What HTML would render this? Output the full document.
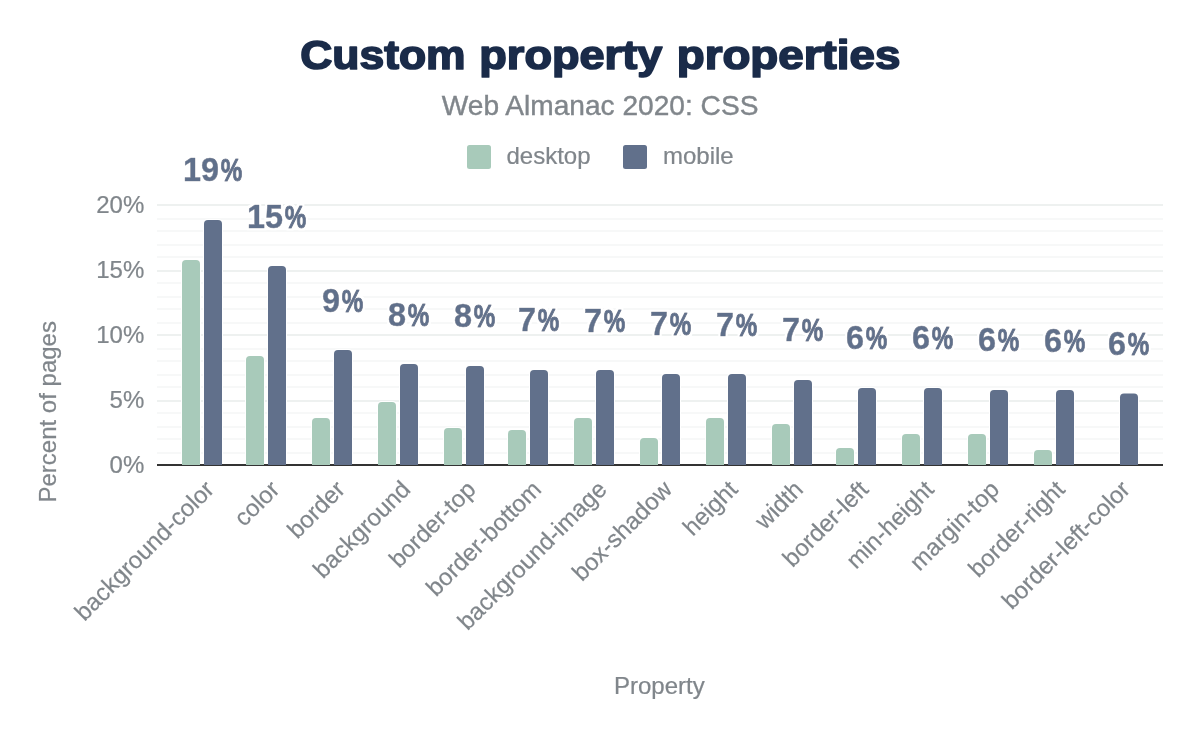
<!DOCTYPE html>
<html lang="en"><head><meta charset="utf-8"><title>Custom property properties</title>
<style>
html,body{margin:0;padding:0;background:#fff;}
body{width:1200px;height:742px;overflow:hidden;}
svg{display:block;}
text{font-family:"Liberation Sans",sans-serif;}
.g{fill:#80868b;font-size:24px;stroke:#80868b;stroke-width:0.22px;}
.dl{fill:#61708b;font-weight:bold;font-size:32.4px;text-anchor:middle;stroke:#61708b;stroke-width:0.5px;stroke-linejoin:round;}
.pc{font-size:30.6px;stroke-width:1px;}
</style></head><body>
<svg width="1200" height="742" viewBox="0 0 1200 742">
<rect width="1200" height="742" fill="#fff"/>

<text y="69" font-size="41.5" font-weight="bold" fill="#1a2b49" stroke="#1a2b49" stroke-width="1.7" stroke-linejoin="round" lengthAdjust="spacingAndGlyphs"><tspan x="300.3" textLength="165.3" lengthAdjust="spacingAndGlyphs">Custom</tspan> <tspan x="479.3" textLength="183" lengthAdjust="spacingAndGlyphs">property</tspan> <tspan x="676.7" textLength="223.7" lengthAdjust="spacingAndGlyphs">properties</tspan></text>
<text x="600.1" y="114.6" text-anchor="middle" font-size="28.12" fill="#80868b" stroke="#80868b" stroke-width="0.4">Web Almanac 2020: CSS</text>
<rect x="467" y="145" width="24" height="24" rx="2.5" fill="#a8caba"/>
<text class="g" x="506.5" y="163.75">desktop</text>
<rect x="623" y="145" width="24" height="24" rx="2.5" fill="#61708b"/>
<text class="g" x="663" y="163.75">mobile</text>
<rect x="157" y="452" width="1006" height="2" fill="#f7f8f8"/>
<rect x="157" y="438" width="1006" height="2" fill="#f7f8f8"/>
<rect x="157" y="426" width="1006" height="2" fill="#f7f8f8"/>
<rect x="157" y="412" width="1006" height="2" fill="#f7f8f8"/>
<rect x="157" y="400" width="1006" height="2" fill="#eef1f0"/>
<rect x="157" y="386" width="1006" height="2" fill="#f7f8f8"/>
<rect x="157" y="374" width="1006" height="2" fill="#f7f8f8"/>
<rect x="157" y="360" width="1006" height="2" fill="#f7f8f8"/>
<rect x="157" y="348" width="1006" height="2" fill="#f7f8f8"/>
<rect x="157" y="334" width="1006" height="2" fill="#eef1f0"/>
<rect x="157" y="322" width="1006" height="2" fill="#f7f8f8"/>
<rect x="157" y="308" width="1006" height="2" fill="#f7f8f8"/>
<rect x="157" y="296" width="1006" height="2" fill="#f7f8f8"/>
<rect x="157" y="282" width="1006" height="2" fill="#f7f8f8"/>
<rect x="157" y="270" width="1006" height="2" fill="#eef1f0"/>
<rect x="157" y="256" width="1006" height="2" fill="#f7f8f8"/>
<rect x="157" y="244" width="1006" height="2" fill="#f7f8f8"/>
<rect x="157" y="230" width="1006" height="2" fill="#f7f8f8"/>
<rect x="157" y="218" width="1006" height="2" fill="#f7f8f8"/>
<rect x="157" y="204" width="1006" height="2" fill="#eef1f0"/>
<text class="g" x="144.3" y="472.8" text-anchor="end">0%</text>
<text class="g" x="144.3" y="407.8" text-anchor="end">5%</text>
<text class="g" x="144.3" y="342.8" text-anchor="end">10%</text>
<text class="g" x="144.3" y="277.8" text-anchor="end">15%</text>
<text class="g" x="144.3" y="212.8" text-anchor="end">20%</text>
<rect x="157" y="464" width="1006" height="2" fill="#333"/>
<path d="M182,464V264Q182,260 186,260H196Q200,260 200,264V464" fill="#a8caba" stroke="#fff" stroke-width="2" paint-order="stroke"/><rect x="182" y="463" width="18" height="2" fill="#a8caba"/>
<path d="M204,464V224Q204,220 208,220H218Q222,220 222,224V464" fill="#61708b" stroke="#fff" stroke-width="2" paint-order="stroke"/><rect x="204" y="463" width="18" height="2" fill="#61708b"/>
<path d="M246,464V360Q246,356 250,356H260Q264,356 264,360V464" fill="#a8caba" stroke="#fff" stroke-width="2" paint-order="stroke"/><rect x="246" y="463" width="18" height="2" fill="#a8caba"/>
<path d="M268,464V270Q268,266 272,266H282Q286,266 286,270V464" fill="#61708b" stroke="#fff" stroke-width="2" paint-order="stroke"/><rect x="268" y="463" width="18" height="2" fill="#61708b"/>
<path d="M312,464V422Q312,418 316,418H326Q330,418 330,422V464" fill="#a8caba" stroke="#fff" stroke-width="2" paint-order="stroke"/><rect x="312" y="463" width="18" height="2" fill="#a8caba"/>
<path d="M334,464V354Q334,350 338,350H348Q352,350 352,354V464" fill="#61708b" stroke="#fff" stroke-width="2" paint-order="stroke"/><rect x="334" y="463" width="18" height="2" fill="#61708b"/>
<path d="M378,464V406Q378,402 382,402H392Q396,402 396,406V464" fill="#a8caba" stroke="#fff" stroke-width="2" paint-order="stroke"/><rect x="378" y="463" width="18" height="2" fill="#a8caba"/>
<path d="M400,464V368Q400,364 404,364H414Q418,364 418,368V464" fill="#61708b" stroke="#fff" stroke-width="2" paint-order="stroke"/><rect x="400" y="463" width="18" height="2" fill="#61708b"/>
<path d="M444,464V432Q444,428 448,428H458Q462,428 462,432V464" fill="#a8caba" stroke="#fff" stroke-width="2" paint-order="stroke"/><rect x="444" y="463" width="18" height="2" fill="#a8caba"/>
<path d="M466,464V370Q466,366 470,366H480Q484,366 484,370V464" fill="#61708b" stroke="#fff" stroke-width="2" paint-order="stroke"/><rect x="466" y="463" width="18" height="2" fill="#61708b"/>
<path d="M508,464V434Q508,430 512,430H522Q526,430 526,434V464" fill="#a8caba" stroke="#fff" stroke-width="2" paint-order="stroke"/><rect x="508" y="463" width="18" height="2" fill="#a8caba"/>
<path d="M530,464V374Q530,370 534,370H544Q548,370 548,374V464" fill="#61708b" stroke="#fff" stroke-width="2" paint-order="stroke"/><rect x="530" y="463" width="18" height="2" fill="#61708b"/>
<path d="M574,464V422Q574,418 578,418H588Q592,418 592,422V464" fill="#a8caba" stroke="#fff" stroke-width="2" paint-order="stroke"/><rect x="574" y="463" width="18" height="2" fill="#a8caba"/>
<path d="M596,464V374Q596,370 600,370H610Q614,370 614,374V464" fill="#61708b" stroke="#fff" stroke-width="2" paint-order="stroke"/><rect x="596" y="463" width="18" height="2" fill="#61708b"/>
<path d="M640,464V442Q640,438 644,438H654Q658,438 658,442V464" fill="#a8caba" stroke="#fff" stroke-width="2" paint-order="stroke"/><rect x="640" y="463" width="18" height="2" fill="#a8caba"/>
<path d="M662,464V378Q662,374 666,374H676Q680,374 680,378V464" fill="#61708b" stroke="#fff" stroke-width="2" paint-order="stroke"/><rect x="662" y="463" width="18" height="2" fill="#61708b"/>
<path d="M706,464V422Q706,418 710,418H720Q724,418 724,422V464" fill="#a8caba" stroke="#fff" stroke-width="2" paint-order="stroke"/><rect x="706" y="463" width="18" height="2" fill="#a8caba"/>
<path d="M728,464V378Q728,374 732,374H742Q746,374 746,378V464" fill="#61708b" stroke="#fff" stroke-width="2" paint-order="stroke"/><rect x="728" y="463" width="18" height="2" fill="#61708b"/>
<path d="M772,464V428Q772,424 776,424H786Q790,424 790,428V464" fill="#a8caba" stroke="#fff" stroke-width="2" paint-order="stroke"/><rect x="772" y="463" width="18" height="2" fill="#a8caba"/>
<path d="M794,464V384Q794,380 798,380H808Q812,380 812,384V464" fill="#61708b" stroke="#fff" stroke-width="2" paint-order="stroke"/><rect x="794" y="463" width="18" height="2" fill="#61708b"/>
<path d="M836,464V452Q836,448 840,448H850Q854,448 854,452V464" fill="#a8caba" stroke="#fff" stroke-width="2" paint-order="stroke"/><rect x="836" y="463" width="18" height="2" fill="#a8caba"/>
<path d="M858,464V392Q858,388 862,388H872Q876,388 876,392V464" fill="#61708b" stroke="#fff" stroke-width="2" paint-order="stroke"/><rect x="858" y="463" width="18" height="2" fill="#61708b"/>
<path d="M902,464V438Q902,434 906,434H916Q920,434 920,438V464" fill="#a8caba" stroke="#fff" stroke-width="2" paint-order="stroke"/><rect x="902" y="463" width="18" height="2" fill="#a8caba"/>
<path d="M924,464V392Q924,388 928,388H938Q942,388 942,392V464" fill="#61708b" stroke="#fff" stroke-width="2" paint-order="stroke"/><rect x="924" y="463" width="18" height="2" fill="#61708b"/>
<path d="M968,464V438Q968,434 972,434H982Q986,434 986,438V464" fill="#a8caba" stroke="#fff" stroke-width="2" paint-order="stroke"/><rect x="968" y="463" width="18" height="2" fill="#a8caba"/>
<path d="M990,464V394Q990,390 994,390H1004Q1008,390 1008,394V464" fill="#61708b" stroke="#fff" stroke-width="2" paint-order="stroke"/><rect x="990" y="463" width="18" height="2" fill="#61708b"/>
<path d="M1034,464V454Q1034,450 1038,450H1048Q1052,450 1052,454V464" fill="#a8caba" stroke="#fff" stroke-width="2" paint-order="stroke"/><rect x="1034" y="463" width="18" height="2" fill="#a8caba"/>
<path d="M1056,464V394Q1056,390 1060,390H1070Q1074,390 1074,394V464" fill="#61708b" stroke="#fff" stroke-width="2" paint-order="stroke"/><rect x="1056" y="463" width="18" height="2" fill="#61708b"/>
<path d="M1120,464V397.5Q1120,393.5 1124,393.5H1134Q1138,393.5 1138,397.5V464" fill="#61708b" stroke="#fff" stroke-width="2" paint-order="stroke"/><rect x="1120" y="463" width="18" height="2" fill="#61708b"/>
<defs><filter id="halo" x="0" y="0" width="1200" height="742" filterUnits="userSpaceOnUse"><feMorphology in="SourceAlpha" operator="dilate" radius="2" result="d"/><feFlood flood-color="#fff"/><feComposite in2="d" operator="in" result="h"/><feMerge><feMergeNode in="h"/><feMergeNode in="SourceGraphic"/></feMerge></filter></defs>
<g filter="url(#halo)">
<text class="dl" x="212.6" y="180.6">19<tspan class="pc" dx="1.6" textLength="21.5" lengthAdjust="spacingAndGlyphs">%</tspan></text>
<text class="dl" x="276.6" y="227.9">15<tspan class="pc" dx="1.6" textLength="21.5" lengthAdjust="spacingAndGlyphs">%</tspan></text>
<text class="dl" x="342.6" y="312.0">9<tspan class="pc" dx="1.6" textLength="21.5" lengthAdjust="spacingAndGlyphs">%</tspan></text>
<text class="dl" x="408.6" y="326.0">8<tspan class="pc" dx="1.6" textLength="21.5" lengthAdjust="spacingAndGlyphs">%</tspan></text>
<text class="dl" x="474.6" y="327.20000000000005">8<tspan class="pc" dx="1.6" textLength="21.5" lengthAdjust="spacingAndGlyphs">%</tspan></text>
<text class="dl" x="538.6" y="331.20000000000005">7<tspan class="pc" dx="1.6" textLength="21.5" lengthAdjust="spacingAndGlyphs">%</tspan></text>
<text class="dl" x="604.6" y="332.20000000000005">7<tspan class="pc" dx="1.6" textLength="21.5" lengthAdjust="spacingAndGlyphs">%</tspan></text>
<text class="dl" x="670.6" y="334.8">7<tspan class="pc" dx="1.6" textLength="21.5" lengthAdjust="spacingAndGlyphs">%</tspan></text>
<text class="dl" x="736.6" y="336.0">7<tspan class="pc" dx="1.6" textLength="21.5" lengthAdjust="spacingAndGlyphs">%</tspan></text>
<text class="dl" x="802.6" y="340.8">7<tspan class="pc" dx="1.6" textLength="21.5" lengthAdjust="spacingAndGlyphs">%</tspan></text>
<text class="dl" x="866.6" y="349.0">6<tspan class="pc" dx="1.6" textLength="21.5" lengthAdjust="spacingAndGlyphs">%</tspan></text>
<text class="dl" x="932.6" y="349.0">6<tspan class="pc" dx="1.6" textLength="21.5" lengthAdjust="spacingAndGlyphs">%</tspan></text>
<text class="dl" x="998.6" y="351.3">6<tspan class="pc" dx="1.6" textLength="21.5" lengthAdjust="spacingAndGlyphs">%</tspan></text>
<text class="dl" x="1064.6" y="352.20000000000005">6<tspan class="pc" dx="1.6" textLength="21.5" lengthAdjust="spacingAndGlyphs">%</tspan></text>
<text class="dl" x="1128.6" y="355.40000000000003">6<tspan class="pc" dx="1.6" textLength="21.5" lengthAdjust="spacingAndGlyphs">%</tspan></text>
</g>
<text class="g" text-anchor="end" transform="translate(215.5,490.8) rotate(-45)">background-color</text>
<text class="g" text-anchor="end" transform="translate(280.9,490.8) rotate(-45)">color</text>
<text class="g" text-anchor="end" transform="translate(346.4,490.8) rotate(-45)">border</text>
<text class="g" text-anchor="end" transform="translate(411.8,490.8) rotate(-45)">background</text>
<text class="g" text-anchor="end" transform="translate(477.2,490.8) rotate(-45)">border-top</text>
<text class="g" text-anchor="end" transform="translate(542.7,490.8) rotate(-45)">border-bottom</text>
<text class="g" text-anchor="end" transform="translate(608.1,490.8) rotate(-45)">background-image</text>
<text class="g" text-anchor="end" transform="translate(673.5,490.8) rotate(-45)">box-shadow</text>
<text class="g" text-anchor="end" transform="translate(738.9,490.8) rotate(-45)">height</text>
<text class="g" text-anchor="end" transform="translate(804.4,490.8) rotate(-45)">width</text>
<text class="g" text-anchor="end" transform="translate(869.8,490.8) rotate(-45)">border-left</text>
<text class="g" text-anchor="end" transform="translate(935.2,490.8) rotate(-45)">min-height</text>
<text class="g" text-anchor="end" transform="translate(1000.7,490.8) rotate(-45)">margin-top</text>
<text class="g" text-anchor="end" transform="translate(1066.1,490.8) rotate(-45)">border-right</text>
<text class="g" text-anchor="end" transform="translate(1131.5,490.8) rotate(-45)">border-left-color</text>
<text class="g" text-anchor="middle" transform="translate(56.3,411.8) rotate(-90)">Percent of pages</text>
<text class="g" text-anchor="middle" x="659.3" y="693.6">Property</text>
</svg></body></html>
